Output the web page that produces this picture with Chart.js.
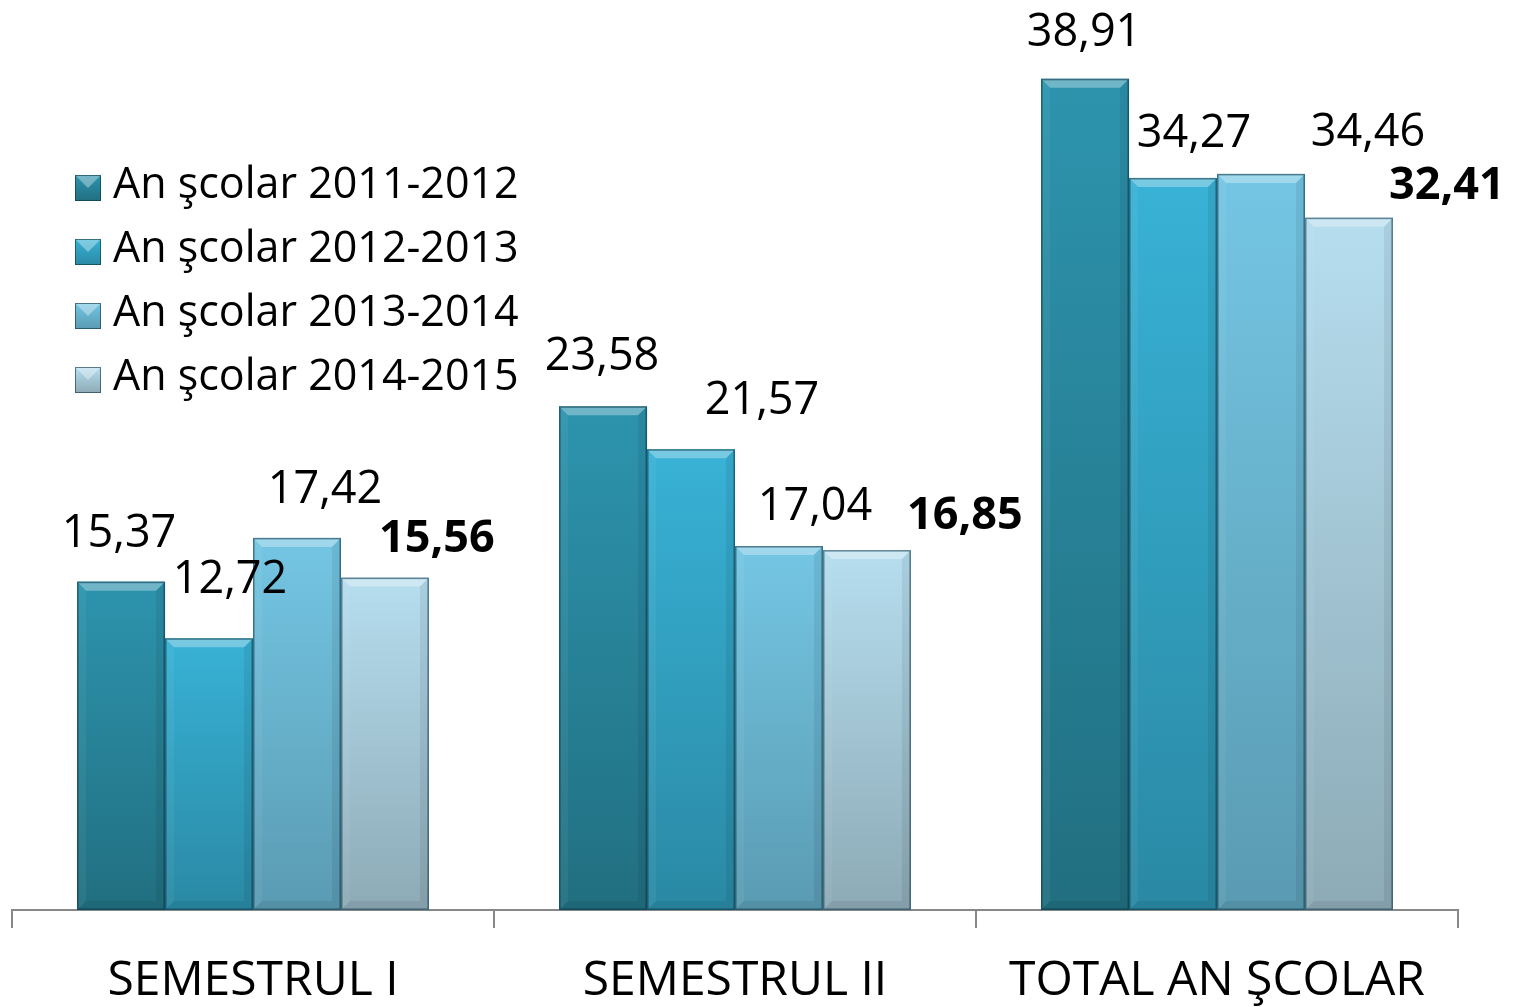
<!DOCTYPE html>
<html lang="en">
<head>
<meta charset="UTF-8">
<title>Medii pe semestre</title>
<script src="https://cdn.jsdelivr.net/npm/chart.js"></script>
<style>
  html, body { margin: 0; padding: 0; background: #fff; }
</style>
</head>
<body>
<canvas id="chartCanvas" width="1520" height="1007"></canvas>
<script>
// date
const categories = ['SEMESTRUL I', 'SEMESTRUL II', 'TOTAL AN ŞCOLAR'];
const seriesNames = ['An şcolar 2011-2012', 'An şcolar 2012-2013', 'An şcolar 2013-2014', 'An şcolar 2014-2015'];
const values2011 = [15.37, 23.58, 38.91];
const values2012 = [12.72, 21.57, 34.27];
const values2013 = [17.42, 17.04, 34.46];
const values2014 = [15.56, 16.85, 32.41];

// culori (sus / jos) pentru fiecare serie
const topColors = ['#2d94ae', '#38b2d6', '#74c6e4', '#b6deef'];
const bottomColors = ['#216f80', '#2a89a4', '#5a9bb2', '#8daab6'];

// deplasarea etichetelor fata de varful barei [dx, dy]
const labelShift = [
    [[-2, -47], [-1, -49], [-1, -46]],
    [[21, -58], [71, -48], [21, -44]],
    [[28, -48], [36, -39], [107, -41]],
    [[52, -38], [98, -34], [98, -31]]
];

const FONT = '"Open Sans", "Noto Sans", sans-serif';

// gradient + teşitura de sus + contur, peste barele desenate de Chart.js
const bevelPlugin = {
    id: 'bevel',
    afterDatasetsDraw(chart) {
        const ctx = chart.ctx;
        chart.data.datasets.forEach((ds, i) => {
            chart.getDatasetMeta(i).data.forEach(bar => {
                const l = bar.x - bar.width / 2, r = bar.x + bar.width / 2;
                const t = bar.y, b = bar.base, k = 9;
                if (!isFinite(t) || !isFinite(b)) return;
                ctx.save();
                const g = ctx.createLinearGradient(0, t, 0, b);
                g.addColorStop(0, topColors[i]);
                g.addColorStop(1, bottomColors[i]);
                ctx.fillStyle = g;
                ctx.fillRect(l, t, r - l, b - t);
                ctx.fillStyle = 'rgba(255,255,255,0.32)';
                ctx.beginPath();
                ctx.moveTo(l, t); ctx.lineTo(r, t); ctx.lineTo(r - k, t + k); ctx.lineTo(l + k, t + k);
                ctx.closePath(); ctx.fill();
                ctx.fillStyle = 'rgba(0,0,0,0.07)';
                ctx.beginPath();
                ctx.moveTo(r, t); ctx.lineTo(r, b); ctx.lineTo(r - k, b - k); ctx.lineTo(r - k, t + k);
                ctx.closePath(); ctx.fill();
                ctx.beginPath();
                ctx.moveTo(l, b); ctx.lineTo(r, b); ctx.lineTo(r - k, b - k); ctx.lineTo(l + k, b - k);
                ctx.closePath(); ctx.fill();
                ctx.fillStyle = 'rgba(255,255,255,0.05)';
                ctx.beginPath();
                ctx.moveTo(l, t); ctx.lineTo(l + k, t + k); ctx.lineTo(l + k, b - k); ctx.lineTo(l, b);
                ctx.closePath(); ctx.fill();
                ctx.strokeStyle = 'rgba(10,50,65,0.55)';
                ctx.lineWidth = 1.5;
                ctx.strokeRect(l + 0.75, t + 0.75, bar.width - 1.5, b - t - 1.5);
                ctx.restore();
            });
        });
    }
};

// valorile deasupra barelor
const labelPlugin = {
    id: 'valueLabels',
    afterDatasetsDraw(chart) {
        const ctx = chart.ctx;
        const last = chart.data.datasets.length - 1;
        ctx.save();
        ctx.textAlign = 'center';
        ctx.textBaseline = 'middle';
        ctx.fillStyle = '#000';
        chart.data.datasets.forEach((ds, i) => {
            ctx.font = (i === last ? 'bold ' : '') + '45px ' + FONT;
            chart.getDatasetMeta(i).data.forEach((bar, j) => {
                const txt = ds.data[j].toFixed(2).replace('.', ',');
                const s = labelShift[i][j];
                ctx.fillText(txt, bar.x + s[0], bar.y + s[1]);
            });
        });
        ctx.restore();
    }
};

// legenda in interiorul graficului
const legendPlugin = {
    id: 'innerLegend',
    afterDraw(chart) {
        const ctx = chart.ctx;
        const a = chart.chartArea;
        ctx.save();
        ctx.font = '43px ' + FONT;
        ctx.textBaseline = 'middle';
        chart.data.datasets.forEach((ds, i) => {
            const cy = a.top + 186 + i * 64;
            const x = a.left + 63, s = 26, y = cy - s / 2 + 2;
            const g = ctx.createLinearGradient(0, y, 0, y + s);
            g.addColorStop(0, topColors[i]);
            g.addColorStop(1, bottomColors[i]);
            ctx.fillStyle = g;
            ctx.fillRect(x, y, s, s);
            ctx.fillStyle = 'rgba(255,255,255,0.35)';
            ctx.beginPath();
            ctx.moveTo(x, y); ctx.lineTo(x + s, y); ctx.lineTo(x + s / 2, y + s / 2);
            ctx.closePath(); ctx.fill();
            ctx.strokeStyle = 'rgba(10,50,65,0.6)';
            ctx.lineWidth = 1;
            ctx.strokeRect(x + 0.5, y + 0.5, s - 1, s - 1);
            ctx.fillStyle = '#000';
            ctx.fillText(ds.label, x + 38, cy);
        });
        ctx.restore();
    }
};

const seriesValues = [values2011, values2012, values2013, values2014];

const ctx = document.getElementById('chartCanvas').getContext('2d');
const chart = new Chart(ctx, {
    type: 'bar',
    data: {
        labels: categories,
        datasets: seriesNames.map((name, i) => ({
            label: name,
            data: seriesValues[i],
            backgroundColor: topColors[i],
            borderWidth: 0,
            categoryPercentage: 0.73,
            barPercentage: 1
        }))
    },
    options: {
        responsive: false,
        devicePixelRatio: 1,
        animation: false,
        layout: { padding: { left: 12, right: 62, top: 0, bottom: 0 } },
        plugins: {
            legend: { display: false },
            tooltip: { enabled: false }
        },
        scales: {
            x: {
                grid: {
                    display: true,
                    drawOnChartArea: false,
                    offset: true,
                    tickLength: 18,
                    color: '#888888',
                    lineWidth: 2
                },
                border: { color: '#888888', width: 2 },
                ticks: {
                    color: '#000',
                    padding: 25,
                    font: { family: FONT, size: 48 }
                },
                afterFit(scale) { scale.height = 97; }
            },
            y: {
                display: false,
                min: 0,
                max: 42.6
            }
        }
    },
    plugins: [bevelPlugin, labelPlugin, legendPlugin]
});
</script>
</body>
</html>
